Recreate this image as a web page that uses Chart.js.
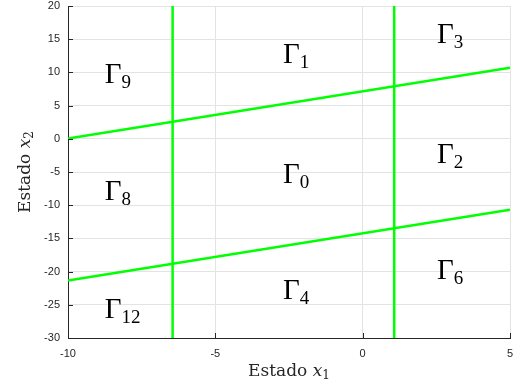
<!DOCTYPE html>
<html>
<head>
<meta charset="utf-8">
<script src="https://cdn.jsdelivr.net/npm/chart.js@4/dist/chart.umd.min.js"></script>
<style>
  html, body { margin: 0; padding: 0; background: #fff; }
  #wrap { width: 519px; height: 392px; }
</style>
</head>
<body>
<div id="wrap"><canvas id="chartCanvas" width="519" height="392"></canvas></div>
<script>
// axis ranges and ticks
const xTicks = [-10, -5, 0, 5];
const yTicks = [-30, -25, -20, -15, -10, -5, 0, 5, 10, 15, 20];

// region boundaries (green lines)
const upperLineX = [-10, 5];
const upperLineY = [0.05, 10.7];
const lowerLineX = [-10, 5];
const lowerLineY = [-21.35, -10.7];
const leftVertX = [-6.45, -6.45];
const rightVertX = [1.07, 1.07];
const vertY = [-30, 20];

// region names, Gamma_k, anchored at lower-left of the glyph
const regionSubs = ["9", "1", "3", "2", "0", "8", "12", "4", "6"];
const regionX = [-8.75, -2.7, 2.52, 2.52, -2.7, -8.75, -8.75, -2.7, 2.52];
const regionY = [8.4, 11.4, 14.4, -3.6, -6.7, -9.2, -27.0, -24.1, -21.1];

const green = "#00ff00";
const axisColor = "#262626";

function toPoints(xs, ys) {
    return xs.map((x, i) => ({ x: x, y: ys[i] }));
}

function lineSet(xs, ys) {
    return {
        data: toPoints(xs, ys),
        showLine: true,
        borderColor: green,
        borderWidth: 2.5,
        pointRadius: 0,
        fill: false
    };
}

// draws a run of text pieces one after the other
function drawRich(ctx, x, y, parts, align) {
    let total = 0;
    parts.forEach(p => {
        ctx.font = p.font;
        total += ctx.measureText(p.text).width;
    });
    let cx = align === "center" ? x - total / 2 : x;
    ctx.textAlign = "left";
    ctx.textBaseline = "alphabetic";
    parts.forEach(p => {
        ctx.font = p.font;
        ctx.fillText(p.text, cx, y + (p.dy || 0));
        cx += ctx.measureText(p.text).width;
    });
}

const serif = "'Liberation Serif', 'DejaVu Serif', serif";
const titleSerif = "'DejaVu Serif', 'Liberation Serif', serif";

const decorations = {
    id: "decorations",
    afterDraw(chart) {
        const ctx = chart.ctx;
        const xs = chart.scales.x;
        const ys = chart.scales.y;
        const area = chart.chartArea;

        ctx.save();
        // inward tick marks
        ctx.strokeStyle = axisColor;
        ctx.lineWidth = 1;
        ctx.beginPath();
        xTicks.forEach(v => {
            const px = Math.round(xs.getPixelForValue(v)) + 0.5;
            ctx.moveTo(px, area.bottom);
            ctx.lineTo(px, area.bottom - 5);
        });
        yTicks.forEach(v => {
            const py = Math.round(ys.getPixelForValue(v)) + 0.5;
            ctx.moveTo(area.left, py);
            ctx.lineTo(area.left + 5, py);
        });
        ctx.stroke();

        // region labels
        ctx.fillStyle = "#000";
        regionSubs.forEach((s, i) => {
            const px = xs.getPixelForValue(regionX[i]);
            const py = ys.getPixelForValue(regionY[i]);
            drawRich(ctx, px, py, [
                { text: "\u0393", font: "29px " + serif },
                { text: s, font: "19px " + serif, dy: 5 }
            ], "left");
        });

        // axis titles
        ctx.fillStyle = axisColor;
        drawRich(ctx, (area.left + area.right) / 2, 376, [
            { text: "Estado ", font: "17px " + titleSerif },
            { text: "x", font: "italic 17px " + titleSerif },
            { text: "1", font: "12px " + titleSerif, dy: 3 }
        ], "center");

        ctx.translate(30, (area.top + area.bottom) / 2);
        ctx.rotate(-Math.PI / 2);
        drawRich(ctx, 0, 0, [
            { text: "Estado ", font: "17px " + titleSerif },
            { text: "x", font: "italic 17px " + titleSerif },
            { text: "2", font: "12px " + titleSerif, dy: 3 }
        ], "center");
        ctx.restore();
    }
};

const ctx = document.getElementById("chartCanvas").getContext("2d");
new Chart(ctx, {
    type: "scatter",
    data: {
        datasets: [
            lineSet(upperLineX, upperLineY),
            lineSet(lowerLineX, lowerLineY),
            lineSet(leftVertX, vertY),
            lineSet(rightVertX, vertY)
        ]
    },
    options: {
        responsive: false,
        animation: false,
        layout: { padding: { top: 6, right: 9, left: 0, bottom: 0 } },
        plugins: {
            legend: { display: false },
            tooltip: { enabled: false }
        },
        scales: {
            x: {
                type: "linear",
                min: -10,
                max: 5,
                afterBuildTicks: s => { s.ticks = xTicks.map(v => ({ value: v })); },
                afterFit: s => { s.height = 54; s.paddingLeft = 0; s.paddingRight = 0; },
                grid: { color: "#e3e3e3", drawTicks: false },
                border: { color: axisColor, width: 1 },
                ticks: {
                    padding: 9,
                    color: axisColor,
                    font: { family: "'Liberation Sans', Arial, sans-serif", size: 11 }
                }
            },
            y: {
                type: "linear",
                min: -30,
                max: 20,
                afterBuildTicks: s => { s.ticks = yTicks.map(v => ({ value: v })); },
                afterFit: s => { s.width = 68; s.paddingTop = 0; s.paddingBottom = 0; },
                grid: { color: "#e3e3e3", drawTicks: false },
                border: { color: axisColor, width: 1 },
                ticks: {
                    padding: 8,
                    color: axisColor,
                    font: { family: "'Liberation Sans', Arial, sans-serif", size: 11 }
                }
            }
        }
    },
    plugins: [decorations]
});
</script>
</body>
</html>
